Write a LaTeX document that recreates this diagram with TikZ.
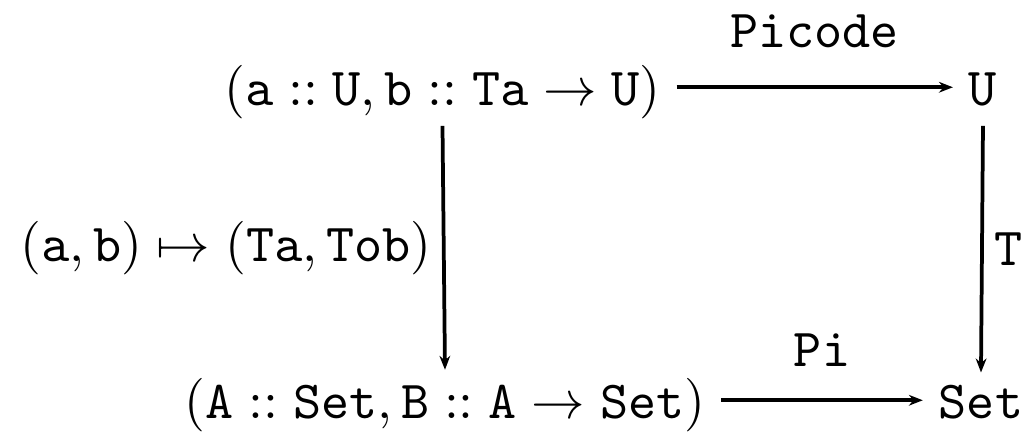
\documentclass[tikz,border=0pt]{standalone}
\usetikzlibrary{arrows.meta}
\begin{document}
\begin{tikzpicture}[x=0.1869pt,y=-0.1869pt,
  obj/.style={inner sep=0pt,anchor=base,text height=7.5pt,text depth=2.5pt},
  lbl/.style={inner sep=0pt,anchor=base},
  arr/.style={line width=0.7pt,-{Stealth[length=2.6pt,width=2pt]}}]
\useasboundingbox (0,0) rectangle (1029,432);
\node[obj] (tl) at (442.5,106) {$(\mathtt{a}::\mathtt{U},\mathtt{b}::\mathtt{Ta}\to\mathtt{U})$};
\node[obj] (tr) at (983,106) {$\mathtt{U}$};
\node[obj] (bl) at (445,419) {$(\mathtt{A}::\mathtt{Set},\mathtt{B}::\mathtt{A}\to\mathtt{Set})$};
\node[obj] (br) at (981,419) {$\mathtt{Set}$};
\draw[arr] ([xshift=2.8pt,yshift=1pt]tl.east) -- node[lbl,above=7pt]{$\mathtt{Picode}$} ([xshift=-2.8pt,yshift=1pt]tr.west);
\draw[arr] ([xshift=2.8pt,yshift=1pt]bl.east) -- node[lbl,above=6pt]{$\mathtt{Pi}$} ([xshift=-2.8pt,yshift=1pt]br.west);
\draw[arr] ([yshift=-1pt]tl.south) -- node[lbl,left=2pt]{$(\mathtt{a},\mathtt{b})\mapsto(\mathtt{Ta},\mathtt{Tob})$} ([yshift=1.5pt]bl.north);
\draw[arr] ([yshift=-1pt]tr.south) -- node[lbl,right=2pt]{$\mathtt{T}$} ([yshift=1pt]br.north);
\end{tikzpicture}
\end{document}
